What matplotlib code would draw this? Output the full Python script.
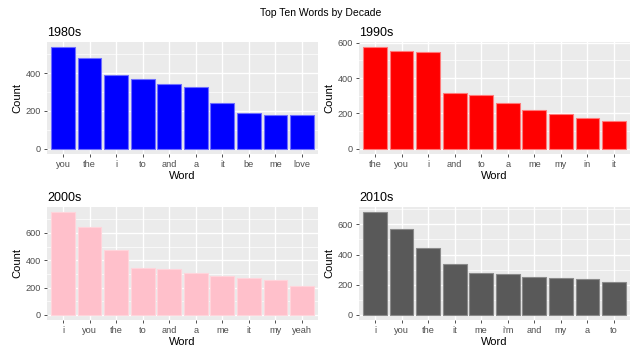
import numpy as np
import matplotlib
matplotlib.use("Agg")
import matplotlib.pyplot as plt

plt.rcParams['font.family'] = ['Liberation Sans', 'DejaVu Sans']

# word counts per decade
words_1980 = ["you", "the", "i", "to", "and", "a", "it", "be", "me", "love"]
counts_1980 = [537, 478, 388, 369, 341, 327, 243, 188, 181, 177]

words_1990 = ["the", "you", "i", "and", "to", "a", "me", "my", "in", "it"]
counts_1990 = [575, 551, 547, 316, 305, 260, 218, 195, 173, 158]

words_2000 = ["i", "you", "the", "to", "and", "a", "me", "it", "my", "yeah"]
counts_2000 = [752, 641, 474, 343, 339, 310, 281, 271, 256, 213]

words_2010 = ["i", "you", "the", "it", "me", "i'm", "and", "my", "a", "to"]
counts_2010 = [681, 567, 445, 337, 278, 272, 250, 245, 241, 215]

W, H = 642, 357
fig = plt.figure(figsize=(W / 100, H / 100), dpi=100)


def px_axes(x0, y0, x1, y1):
    return fig.add_axes([x0 / W, 1 - y1 / H, (x1 - x0) / W, (y1 - y0) / H])


def draw_panel(ax, title, words, counts, fill, edge):
    x = np.arange(len(words))
    ax.set_facecolor("#EBEBEB")
    top = max(counts)
    upper = top * 1.05
    ax.set_ylim(-0.05 * top, upper)
    ax.set_xlim(-0.6, len(words) - 0.4)

    # ggplot-style grid: majors every 200, minors in between
    major = np.arange(0, upper, 200)
    minor = np.arange(100, upper, 200)
    for m in minor:
        ax.axhline(m, color="white", lw=0.5, zorder=0)
    for m in major:
        ax.axhline(m, color="white", lw=1.0, zorder=0)
    for xi in x:
        ax.axvline(xi, color="white", lw=1.0, zorder=0)

    ax.bar(x, counts, width=0.9, color=fill, edgecolor=edge, linewidth=0.8, zorder=2)

    ax.set_xticks(x)
    ax.set_xticklabels(words)
    ax.set_yticks(major)
    ax.tick_params(axis="both", length=2.5, width=0.6, color="#333333",
                   labelsize=6.6, labelcolor="#4D4D4D", pad=2)
    for s in ax.spines.values():
        s.set_visible(False)
    ax.set_xlabel("Word", fontsize=8, labelpad=1)
    ax.set_ylabel("Count", fontsize=8, labelpad=2)
    ax.set_title(title, loc="left", fontsize=9, pad=4)


ax1 = px_axes(47, 42, 318, 154)
ax2 = px_axes(359, 42, 630, 154)
ax3 = px_axes(47, 207, 318, 320)
ax4 = px_axes(359, 207, 630, 320)

draw_panel(ax1, "1980s", words_1980, counts_1980, "#0000FF", "#6F6FFF")
draw_panel(ax2, "1990s", words_1990, counts_1990, "#FF0000", "#FF7A7A")
draw_panel(ax3, "2000s", words_2000, counts_2000, "#FFC0CB", "#FFD4DB")
draw_panel(ax4, "2010s", words_2010, counts_2010, "#595959", "#8A8A8A")

fig.text(0.5, 1 - 13 / H, "Top Ten Words by Decade", ha="center", va="center", fontsize=7.5)

fig.savefig("out.png", dpi=100)
